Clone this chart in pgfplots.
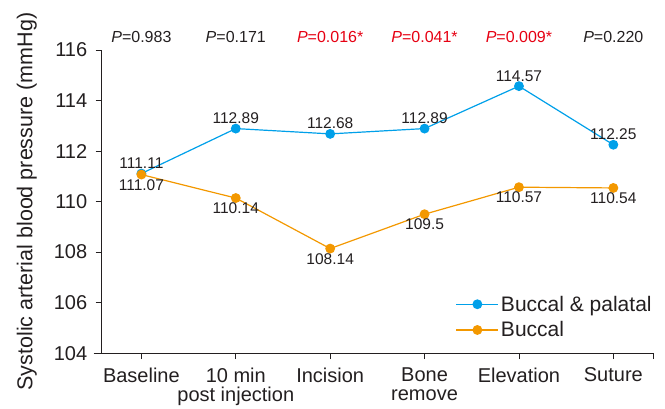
\documentclass[border=0pt]{standalone}
\usepackage{fontspec}
\setmainfont{Liberation Sans}
\usepackage{pgfplots}
\pgfplotsset{compat=1.18}
\definecolor{bpblue}{HTML}{00A0E9}
\definecolor{bporange}{HTML}{F39800}
\definecolor{pred}{HTML}{E60012}
\definecolor{txt}{HTML}{231F20}

\begin{document}
\begin{tikzpicture}
\begin{axis}[
    name=ax,
    scale only axis,
    width=551pt, height=303pt,
    xmin=-0.42, xmax=5.42,
    ymin=104, ymax=116,
    ytick={104,106,...,116},
    xtick={0,...,5},
    xticklabels={Baseline,{10 min\\post injection},Incision,{Bone\\remove},Elevation,Suture},
    extra x ticks={5.42},
    extra x tick labels={},
    axis lines*=left,
    axis line style={draw=txt, line width=0.9pt, -},
    x axis line style={shorten <=-8pt},
    tick style={draw=txt, line width=0.9pt},
    tick align=outside,
    major tick length=6pt,
    xticklabel style={align=center, font=\fontsize{20}{19.5}\selectfont, text=txt, yshift=-5pt},
    yticklabel style={font=\fontsize{20}{22}\selectfont, text=txt, xshift=-5pt},
    /pgf/number format/assume math mode=true,
    ylabel={Systolic arterial blood pressure (mmHg)},
    every axis y label/.style={at={(axis description cs:-0.1361,0.5)}, rotate=90,
        anchor=center, font=\fontsize{21.5}{23}\selectfont, text=txt},
    clip=false,
    legend style={at={(1.007,0.035)}, anchor=south east, draw=none, fill=none,
        font=\fontsize{21}{23}\selectfont, text=txt, row sep=5pt},
    legend cell align=left,
    legend image code/.code={
        \draw[#1, line width=1.2pt, mark repeat=2, mark phase=2] plot coordinates {(0pt,0pt) (21pt,0pt) (42pt,0pt)};
    },
]
\addplot[color=bpblue, line width=1.2pt, mark=*, mark size=4.3pt,
    nodes near coords={\pgfmathprintnumber[assume math mode=true]{\pgfplotspointmeta}},
    nodes near coords align={above},
    nodes near coords style={font=\fontsize{15.5}{17}\selectfont, text=txt, yshift=1pt}]
coordinates {(0,111.11) (1,112.89) (2,112.68) (3,112.89) (4,114.57) (5,112.25)};
\addlegendentry{Buccal \& palatal}
\addplot[color=bporange, line width=1.2pt, mark=*, mark size=4.3pt,
    nodes near coords={\pgfmathprintnumber[assume math mode=true]{\pgfplotspointmeta}},
    nodes near coords align={below},
    nodes near coords style={font=\fontsize{15.5}{17}\selectfont, text=txt, yshift=-1pt}]
coordinates {(0,111.07) (1,110.14) (2,108.14) (3,109.5) (4,110.57) (5,110.54)};
\addlegendentry{Buccal}

\begin{scope}[font=\fontsize{16}{18}\selectfont]
\node[text=txt] at (axis cs:0,116) [yshift=13pt] {\textit{P}=0.983};
\node[text=txt] at (axis cs:1,116) [yshift=13pt] {\textit{P}=0.171};
\node[text=pred] at (axis cs:2,116) [yshift=13pt] {\textit{P}=0.016*};
\node[text=pred] at (axis cs:3,116) [yshift=13pt] {\textit{P}=0.041*};
\node[text=pred] at (axis cs:4,116) [yshift=13pt] {\textit{P}=0.009*};
\node[text=txt] at (axis cs:5,116) [yshift=13pt] {\textit{P}=0.220};
\end{scope}
\end{axis}
\pgfresetboundingbox
\path (ax.south west) ++(-101.7pt,-55.3pt) coordinate (bl);
\path (ax.north east) ++(12pt,50pt) coordinate (tr);
\path[use as bounding box] (bl) rectangle (tr);
\end{tikzpicture}
\end{document}
